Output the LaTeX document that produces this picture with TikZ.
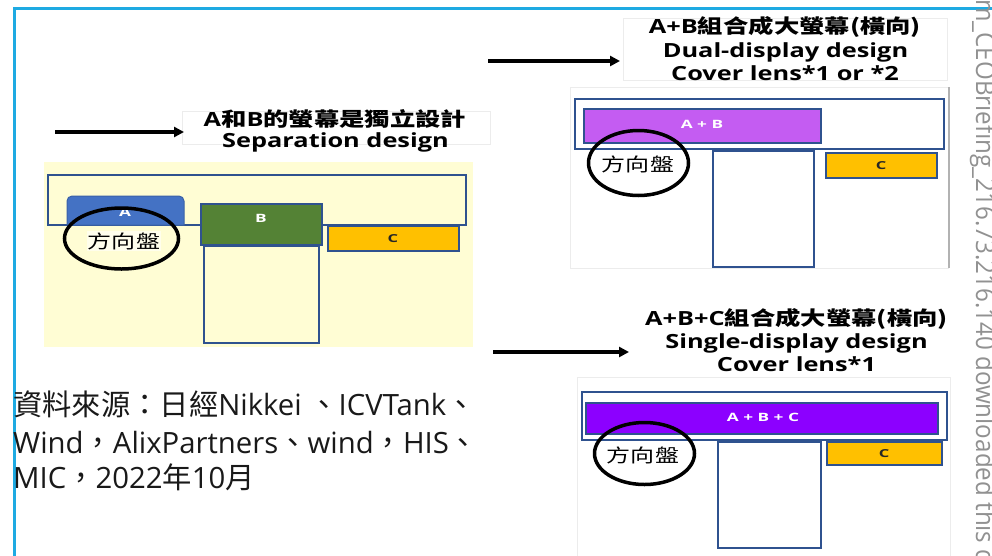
\documentclass[tikz,border=0pt]{standalone}
\usepackage{fontspec}
\usetikzlibrary{arrows.meta}
\setmainfont{Open Sans}
\newfontfamily\zhr{Noto Sans CJK TC}
\newfontfamily\hdlat{Open Sans}[FakeStretch=1.3]
\newfontfamily\lbllat{Open Sans}[FakeStretch=1.5]
\newfontfamily\hdzh{Noto Sans CJK TC}[FakeStretch=1.3]
\newfontfamily\wmfont{Open Sans}[FakeStretch=0.93]
\newcommand\zh[1]{{\hdzh #1}}
\definecolor{frameblue}{RGB}{30,170,226}
\definecolor{boxblue}{RGB}{47,82,143}
\definecolor{ablue}{RGB}{68,114,196}
\definecolor{bgreen}{RGB}{84,130,53}
\definecolor{corange}{RGB}{255,192,0}
\definecolor{pinkpurple}{RGB}{196,92,242}
\definecolor{violetbar}{RGB}{140,0,255}
\definecolor{bgyellow}{RGB}{255,253,212}
\definecolor{wmgray}{RGB}{145,145,145}
\definecolor{faint}{RGB}{236,236,236}
\begin{document}
\begin{tikzpicture}[x=1pt,y=-1pt,
  outline/.style={draw=boxblue, line width=2.5pt},
  thinout/.style={draw=boxblue, line width=1.5pt},
  wheel/.style={draw=black, line width=3.5pt},
  arrowline/.style={line width=3.3pt, -{Triangle[length=10pt,width=10pt]}},
  heading/.style={inner sep=0pt, anchor=base, font=\hdlat\bfseries\fontsize{19.5}{23}\selectfont},
  boxlabel/.style={inner sep=0pt, font=\lbllat\bfseries\fontsize{11.5}{11.5}\selectfont, text=white},
  clabel/.style={inner sep=0pt, font=\lbllat\bfseries\fontsize{11}{11}\selectfont, text=black!85},
  wheeltext/.style={inner sep=1pt, font=\hdzh\fontsize{18.5}{18.5}\selectfont},
  src/.style={inner sep=0pt, anchor=base west, text=black!90, font=\fontsize{29.3}{29.3}\selectfont},
  wm/.style={inner sep=0pt, text=wmgray, font=\wmfont\fontsize{26}{26}\selectfont}]
\useasboundingbox (0,0) rectangle (992,555);
\clip (0,0) rectangle (992,555);
\fill[white] (0,0) rectangle (992,555);

% ---------- left diagram ----------
\draw[faint, line width=0.8pt] (182,111) rectangle (490,144);
\fill[bgyellow] (44,162) rectangle (473,347);
\draw[outline, fill=bgyellow] (48,175) rectangle (466,225);
\draw[fill=ablue, draw=ablue!85!black, line width=1pt]
  (67,225) [rounded corners=5pt] -- (67,196) -- (184,196) [sharp corners] -- (184,225) -- cycle;
\node[boxlabel] (labA) at (125,212) {A};
\draw[thinout, fill=bgreen] (201,204) rectangle (322,245);
\node[boxlabel] (labB) at (261,218) {B};
\draw[outline, fill=bgyellow] (204,246) rectangle (319,343);
\draw[thinout, fill=corange] (328,226) rectangle (459,251);
\node[clabel] (labC1) at (393,239) {C};
\draw[wheel] (121.5,238.5) ellipse [x radius=57, y radius=30.5];
\node[wheeltext, fill=white!55!bgyellow] (w1) at (124,241) {方向盤};

\coordinate (a1s) at (55,132);
\coordinate (a1e) at (184,132);
\draw[arrowline] (a1s) -- (a1e);
\node[heading] (hL1) at (335,126) {A\zh{和}B\zh{的螢幕是獨立設計}};
\node[heading] (hL2) at (335.5,147) {Separation design};

% ---------- top right diagram ----------
\draw[faint, line width=0.8pt] (623,18) rectangle (947,80);
\draw[faint, line width=0.8pt] (570,87) rectangle (948,268);
\draw[black!30, line width=1.5pt] (949,87) -- (949,268);
\draw[outline, fill=white] (575,99) rectangle (944,149);
\draw[thinout, fill=pinkpurple] (584,109) rectangle (821,143);
\node[boxlabel] (labAB) at (702,124) {A + B};
\draw[outline, fill=white] (713,151) rectangle (814,267);
\draw[thinout, fill=corange] (826,153) rectangle (937,178);
\node[clabel] (labC2) at (881,166) {C};
\draw[wheel] (638.5,163) ellipse [x radius=50, y radius=32.5];
\node[wheeltext, fill=white, minimum height=25pt] (w2) at (638,164) {方向盤};

\coordinate (a2s) at (488,61);
\coordinate (a2e) at (620,61);
\draw[arrowline] (a2s) -- (a2e);
\node[heading] (hT1) at (785,33) {A+B\zh{組合成大螢幕(橫向)}};
\node[heading] (hT2) at (785.5,57) {Dual-display design};
\node[heading] (hT3) at (785,80) {Cover lens*1 or *2};

% ---------- bottom right diagram ----------
\draw[faint, line width=0.8pt] (577,377) rectangle (950,560);
\draw[outline, fill=white] (582,392) rectangle (947,440);
\draw[thinout, fill=violetbar] (586,403) rectangle (938,434);
\node[boxlabel] (labABC) at (763,417) {A + B + C};
\draw[outline, fill=white] (718,442) rectangle (821,548);
\draw[thinout, fill=corange] (827,442) rectangle (942,465);
\node[clabel] (labC3) at (884,454) {C};
\draw[wheel] (644.5,453.5) ellipse [x radius=50, y radius=31];
\node[wheeltext, fill=white, minimum height=24pt] (w3) at (643,455) {方向盤};

\coordinate (a3s) at (493,352);
\coordinate (a3e) at (629,352);
\draw[arrowline] (a3s) -- (a3e);
\node[heading] (hB1) at (796.5,325) {A+B+C\zh{組合成大螢幕(橫向)}};
\node[heading] (hB2) at (796.5,348) {Single-display design};
\node[heading] (hB3) at (796.5,371) {Cover lens*1};

% ---------- frame ----------
\draw[frameblue, line width=3pt] (14,556) -- (14,8) -- (993,8);

% ---------- source text ----------
\node[src] (s1) at (13,415) {{\zhr 資料來源：日經}Nikkei {\zhr 、}ICVTank{\zhr 、}};
\node[src] (s2) at (13,453) {Wind{\zhr ，}AlixPartners{\zhr 、}wind{\zhr ，}HIS{\zhr 、}};
\node[src] (s3) at (13,488) {MIC{\zhr ，}2022{\zhr 年}10{\zhr 月}};

% ---------- watermark ----------
\node[wm, rotate=-90, anchor=base west] (wmark) at (976,-1) {m\_CEOBriefing\_216.73.216.140 downloaded this d};
\end{tikzpicture}
\end{document}
